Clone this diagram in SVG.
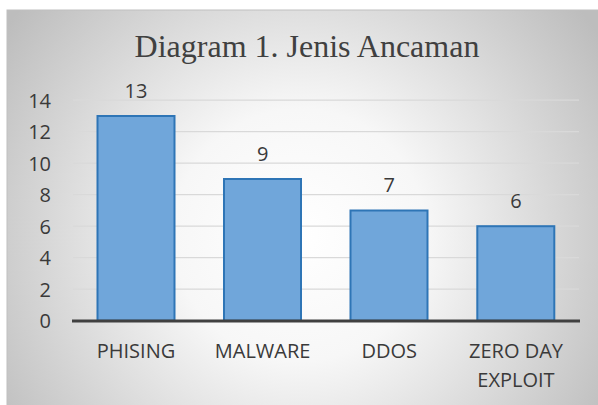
<svg xmlns="http://www.w3.org/2000/svg" width="598" height="405" viewBox="0 0 598 405">
<defs>
<radialGradient id="bg" gradientUnits="userSpaceOnUse" cx="300" cy="235" r="360">
<stop offset="0" stop-color="#ffffff"/>
<stop offset="0.35" stop-color="#f7f7f7"/>
<stop offset="1" stop-color="#bdbdbd"/>
</radialGradient>
<style>
.lbl{font-family:"Open Sans","Liberation Sans",sans-serif;font-size:20px;fill:#3a3a3a}
.ylbl{text-anchor:end}
.mid{text-anchor:middle}
.grid{stroke:#d9d9d9;stroke-width:1.2}
.bar{fill:#70a6da;stroke:#2e75b6;stroke-width:2}
</style>
</defs>
<rect x="0" y="0" width="598" height="405" fill="#ffffff"/>
<rect id="chart-area" x="7" y="10" width="600" height="400" fill="url(#bg)" stroke="#bfbfbf" stroke-width="1"/>
<text id="title" x="307" y="57" text-anchor="middle" font-family="'Liberation Serif','Times New Roman',serif" font-size="32" fill="#404040">Diagram 1. Jenis Ancaman</text>
<g id="gridlines">
<line class="grid" x1="73" y1="100.2" x2="579" y2="100.2"/>
<line class="grid" x1="73" y1="131.7" x2="579" y2="131.7"/>
<line class="grid" x1="73" y1="163.2" x2="579" y2="163.2"/>
<line class="grid" x1="73" y1="194.7" x2="579" y2="194.7"/>
<line class="grid" x1="73" y1="226.2" x2="579" y2="226.2"/>
<line class="grid" x1="73" y1="257.7" x2="579" y2="257.7"/>
<line class="grid" x1="73" y1="289.2" x2="579" y2="289.2"/>
</g>
<g id="y-axis-labels" class="lbl ylbl">
<text x="51" y="107.5">14</text>
<text x="51" y="139">12</text>
<text x="51" y="170.5">10</text>
<text x="51" y="202">8</text>
<text x="51" y="233.5">6</text>
<text x="51" y="265">4</text>
<text x="51" y="296.5">2</text>
<text x="51" y="328">0</text>
</g>
<g id="bar-phising">
<rect class="bar" x="97.5" y="116" width="77" height="204.7"/>
<text class="lbl mid" x="136" y="98">13</text>
<text class="lbl mid" x="136" y="358">PHISING</text>
</g>
<g id="bar-malware">
<rect class="bar" x="224" y="179" width="77" height="141.7"/>
<text class="lbl mid" x="262.6" y="161">9</text>
<text class="lbl mid" x="262.6" y="358">MALWARE</text>
</g>
<g id="bar-ddos">
<rect class="bar" x="350.5" y="210.5" width="77" height="110.2"/>
<text class="lbl mid" x="389.2" y="192">7</text>
<text class="lbl mid" x="389.2" y="358">DDOS</text>
</g>
<g id="bar-zero-day">
<rect class="bar" x="477.3" y="226.2" width="77" height="94.5"/>
<text class="lbl mid" x="516" y="208">6</text>
<text class="lbl mid" x="516" y="358">ZERO DAY</text>
<text class="lbl mid" x="516" y="387">EXPLOIT</text>
</g>
<g id="connectors">
<line x1="72" y1="321" x2="580" y2="321" stroke="#404040" stroke-width="3"/>
</g>
</svg>
